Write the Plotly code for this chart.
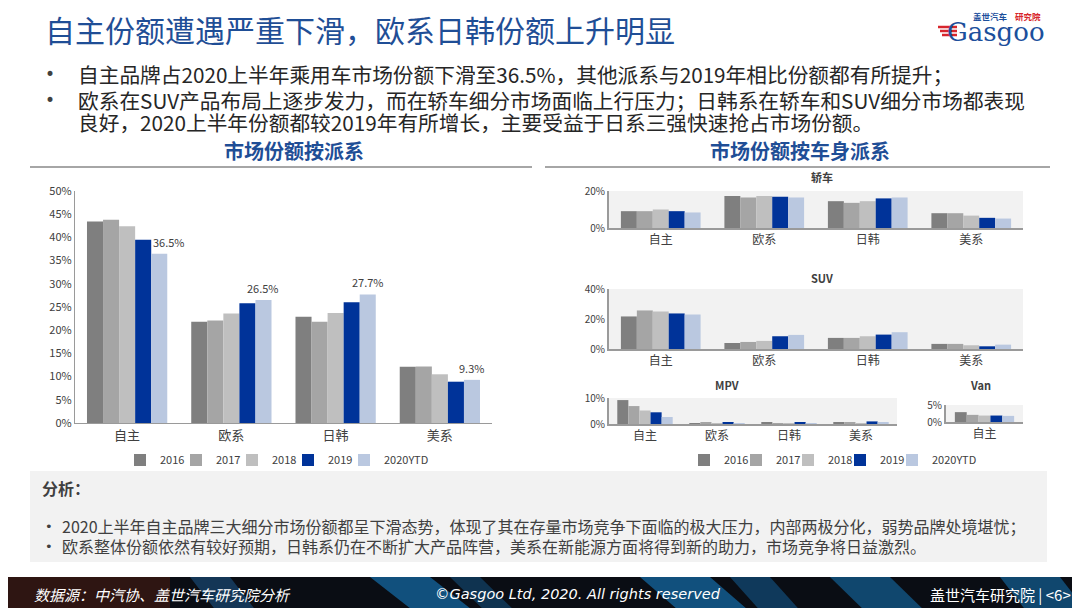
import plotly.graph_objects as go

W, H = 1080, 608
OFF = 8  # the page body adds an 8px margin; layout positions below are in screen pixels

# ---- data (market share, %) ----
years = ["2016", "2017", "2018", "2019", "2020YTD"]
bar_colors = ["#7f7f7f", "#a5a5a5", "#bfbfbf", "#003399", "#bac8e0"]
groups = ["自主", "欧系", "日韩", "美系"]

# overall passenger-car share, one row per year
total_share = [
    [43.4, 21.8, 22.9, 12.1],
    [43.8, 22.1, 21.8, 12.2],
    [42.4, 23.6, 23.7, 10.5],
    [39.5, 25.8, 26.0, 8.9],
    [36.5, 26.5, 27.7, 9.3],
]
sedan_share = [
    [9.1, 17.3, 14.5, 8.0],
    [9.1, 16.5, 13.6, 8.0],
    [10.0, 17.3, 14.5, 6.7],
    [9.1, 16.9, 16.0, 5.5],
    [8.4, 16.5, 16.5, 5.1],
]
suv_share = [
    [21.7, 4.0, 7.4, 3.4],
    [25.7, 4.7, 7.4, 3.4],
    [25.0, 5.4, 8.5, 2.5],
    [23.7, 8.5, 9.6, 1.8],
    [23.0, 9.4, 11.2, 2.9],
]
mpv_share = [
    [9.2, 0.1, 0.4, 0.4],
    [6.9, 0.4, 0.3, 0.5],
    [5.2, 0.2, 0.3, 0.3],
    [4.5, 0.5, 0.5, 1.0],
    [2.7, 0.2, 0.3, 0.5],
]
van_groups = ["自主"]
van_share = [[2.9], [2.1], [1.9], [1.9], [1.8]]

title_text = "自主份额遭遇严重下滑，欧系日韩份额上升明显"
bullets_top = [
    "自主品牌占2020上半年乘用车市场份额下滑至36.5%，其他派系与2019年相比份额都有所提升；",
    "欧系在SUV产品布局上逐步发力，而在轿车细分市场面临上行压力；日韩系在轿车和SUV细分市场都表现",
    "良好，2020上半年份额都较2019年有所增长，主要受益于日系三强快速抢占市场份额。",
]
bullets_bottom = [
    "2020上半年自主品牌三大细分市场份额都呈下滑态势，体现了其在存量市场竞争下面临的极大压力，内部两极分化，弱势品牌处境堪忧；",
    "欧系整体份额依然有较好预期，日韩系仍在不断扩大产品阵营，美系在新能源方面将得到新的助力，市场竞争将日益激烈。",
]
label_nudge = [10, 0, 0, 0]  # px shift of the 2020YTD value labels

FONT = "Noto Sans CJK SC"
TXT = "#404040"
BLUE = "#1f4e96"
BARGAP = 0.23


def px(x):
    return (x - OFF) / W


def py(y):
    return 1 - (y - OFF) / H


fig = go.Figure()

# (axis suffix, categories, values, x px range, y px range (bottom, top), y max, dtick, tick font, axis line width)
charts = [
    ("", groups, total_share, (75, 492), (423, 191), 50, 5, 11, 1.2),
    ("2", groups, sedan_share, (609, 1023), (228, 191), 20, 20, 10, 2),
    ("3", groups, suv_share, (609, 1023), (349, 289), 40, 20, 10, 2),
    ("4", groups, mpv_share, (609, 897), (424, 398), 10, 10, 10, 2),
    ("5", van_groups, van_share, (946, 1023), (422, 405), 5, 5, 10, 2),
]

for k, (sfx, cats, vals, xr, yr, ymax, dt, tsize, lw) in enumerate(charts):
    for i, yr_name in enumerate(years):
        show = k == 0 or k == 3
        fig.add_trace(go.Bar(
            x=cats, y=vals[i], name=yr_name,
            marker=dict(color=bar_colors[i], line=dict(width=0)),
            xaxis="x" + sfx, yaxis="y" + sfx,
            showlegend=show, legend="legend" if k == 0 else "legend2",
            legendwidth=52 if i == 4 else None,
            hovertemplate="%{x} " + yr_name + ": %{y}%<extra></extra>",
        ))
    fig.layout["xaxis" + sfx] = dict(
        domain=[px(xr[0]), px(xr[1])], anchor="y" + sfx,
        showline=True, linecolor="#9a9a9a", linewidth=lw,
        tickfont=dict(size=13 if k == 0 else 12, color=TXT, family=FONT),
        ticks="", fixedrange=True,
    )
    fig.layout["yaxis" + sfx] = dict(
        domain=[py(yr[0]), py(yr[1])], anchor="x" + sfx,
        range=[0, ymax], dtick=dt, ticksuffix="%",
        showline=True, linecolor="#9a9a9a", linewidth=lw,
        showgrid=False, zeroline=False, ticks="",
        tickfont=dict(size=tsize, color=TXT, family=FONT),
        fixedrange=True,
    )

shapes = []
# grey plot backgrounds of the small charts
for sfx in ["2", "3", "4", "5"]:
    shapes.append(dict(type="rect", xref=f"x{sfx} domain", yref=f"y{sfx} domain",
                       x0=0, x1=1, y0=0, y1=1, fillcolor="#f2f2f2",
                       line=dict(width=0), layer="below"))

# section rules
shapes.append(dict(type="line", xref="paper", yref="paper", x0=px(30), x1=px(532),
                   y0=py(167), y1=py(167), line=dict(color="#a6a6a6", width=2)))
shapes.append(dict(type="line", xref="paper", yref="paper", x0=px(545), x1=px(1050),
                   y0=py(167), y1=py(167), line=dict(color="#a6a6a6", width=2)))

# analysis box
shapes.append(dict(type="rect", xref="paper", yref="paper", x0=px(30), x1=px(1047),
                   y0=py(562), y1=py(471), fillcolor="#f2f2f2", line=dict(width=0),
                   layer="below"))

# footer band
shapes.append(dict(type="rect", xref="paper", yref="paper", x0=0, x1=1,
                   y0=0, y1=py(577), fillcolor="#0a0d14", line=dict(width=0),
                   layer="below"))
shapes.append(dict(type="rect", xref="paper", yref="paper", x0=0, x1=px(170),
                   y0=0, y1=py(577), fillcolor="rgba(90,30,15,0.45)", line=dict(width=0),
                   layer="below"))


def streak(x0, w, slant, color):
    pts = [(x0, 577), (x0 + w, 577), (x0 + w + slant, 616), (x0 + slant, 616)]
    path = "M " + " L ".join(f"{px(a)},{py(b)}" for a, b in pts) + " Z"
    return dict(type="path", xref="paper", yref="paper", path=path,
                fillcolor=color, line=dict(width=0), layer="below")


shapes += [
    streak(190, 40, 30, "rgba(30,90,140,0.55)"),
    streak(370, 60, 50, "rgba(20,110,170,0.7)"),
    streak(450, 30, 40, "rgba(20,90,140,0.5)"),
    streak(640, 70, 45, "rgba(20,110,170,0.7)"),
    streak(730, 40, 35, "rgba(20,95,150,0.55)"),
    streak(830, 60, 40, "rgba(20,110,170,0.6)"),
    streak(1000, 60, 30, "rgba(20,110,170,0.6)"),
]

# logo stripes
for j, yy in enumerate([27, 31, 35]):
    shapes.append(dict(type="line", xref="paper", yref="paper",
                       x0=px(938 + j * 2), x1=px(957), y0=py(yy), y1=py(yy),
                       line=dict(color="#d7262c", width=2.5)))

ann = []


def text(x, y, s, size, color=TXT, anchor="left", bold=False, family=FONT, italic=False):
    if bold:
        s = f"<b>{s}</b>"
    if italic:
        s = f"<i>{s}</i>"
    ann.append(dict(x=px(x), y=py(y), xref="paper", yref="paper", text=s,
                    showarrow=False, xanchor=anchor, yanchor="middle",
                    font=dict(size=size, color=color, family=family)))


# value labels on the 2020YTD bars of the main chart
cat_px = (charts[0][3][1] - charts[0][3][0]) / len(groups)
bar_off = 2 * cat_px * (1 - BARGAP) / len(years)
for g, v, nudge in zip(groups, total_share[4], label_nudge):
    ann.append(dict(x=g, y=v, xref="x", yref="y", text=f"{v}%", showarrow=False,
                    xanchor="center", yanchor="bottom", xshift=bar_off + nudge, yshift=2,
                    font=dict(size=11, color=TXT, family=FONT)))

text(43, 29, title_text, 30, BLUE)
text(43, 74, "•", 17, "#404040", family="DejaVu Sans")
text(43, 100, "•", 17, "#404040", family="DejaVu Sans")
text(76, 74, bullets_top[0], 20.7, "#262626")
text(76, 100, bullets_top[1], 20.7, "#262626")
text(76, 122, bullets_top[2], 20.7, "#262626")

text(294, 150, "市场份额按派系", 20, BLUE, anchor="center", bold=True)
text(800, 150, "市场份额按车身派系", 20, BLUE, anchor="center", bold=True)

text(822, 177, "轿车", 11, TXT, anchor="center", bold=True)
text(822, 278, "SUV", 11, TXT, anchor="center", bold=True)
text(727, 385, "MPV", 11, TXT, anchor="center", bold=True)
text(980, 385, "Van", 11, TXT, anchor="center", bold=True)

text(40, 488, "分析：", 16, TXT, bold=True)
text(43, 526, "•", 13, TXT, family="DejaVu Sans")
text(43, 546, "•", 13, TXT, family="DejaVu Sans")
text(60, 526, bullets_bottom[0], 16, TXT)
text(60, 546, bullets_bottom[1], 16, TXT)

text(32, 594, "数据源：中汽协、盖世汽车研究院分析", 15, "white", italic=True)
text(578, 594, "©Gasgoo Ltd, 2020. All rights reserved", 14.5, "white", anchor="center",
     italic=True, family="DejaVu Sans")
text(1073, 594, "盖世汽车研究院 | <6>", 15, "white", anchor="right")

# logo text
text(1010, 16, "盖世汽车", 8.5, "#1c4f9c", anchor="right", bold=True)
text(1013, 16, "研究院", 8.5, "#d7262c", bold=True)
text(1047, 32, "Gasgoo", 26, "#1c4f9c", anchor="right", family="DejaVu Serif")

fig.update_layout(
    width=W, height=H,
    margin=dict(l=0, r=0, t=0, b=0, autoexpand=False),
    paper_bgcolor="white", plot_bgcolor="rgba(0,0,0,0)",
    barmode="group", bargap=BARGAP, bargroupgap=0,
    font=dict(family=FONT, color=TXT),
    shapes=shapes, annotations=ann,
    legend=dict(orientation="h", x=px(120), y=py(460), xanchor="left", yanchor="middle",
                font=dict(size=11, color=TXT), itemwidth=30, entrywidth=11,
                entrywidthmode="pixels", bgcolor="rgba(0,0,0,0)", traceorder="normal"),
    legend2=dict(orientation="h", x=px(684), y=py(460), xanchor="left", yanchor="middle",
                 font=dict(size=11, color=TXT), itemwidth=30, entrywidth=7,
                 entrywidthmode="pixels", bgcolor="rgba(0,0,0,0)", traceorder="normal"),
    showlegend=True,
)

fig.write_html("out.html")
